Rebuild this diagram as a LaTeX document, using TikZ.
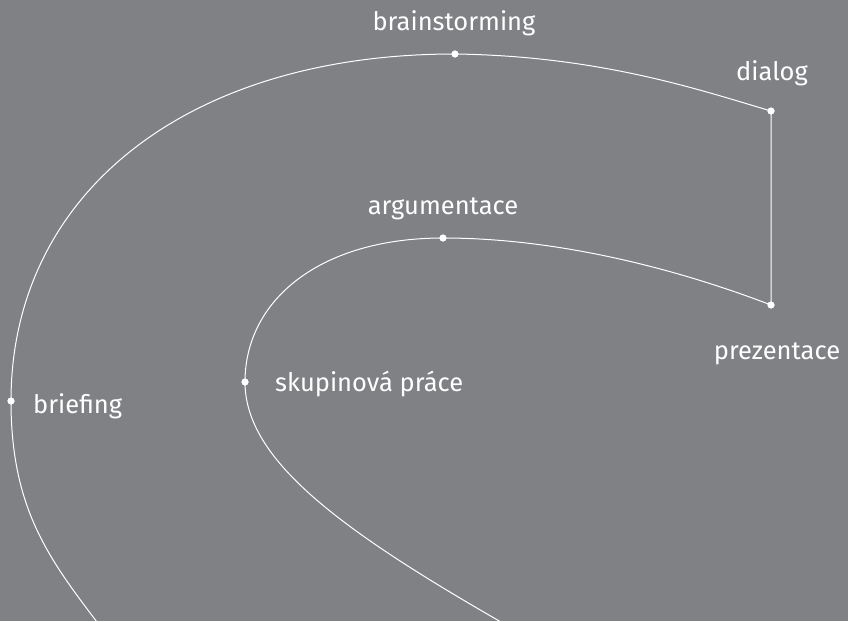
\documentclass[tikz,border=0pt]{standalone}
\usepackage{fontspec}
\setmainfont{Fira Sans}
\usetikzlibrary{positioning}
\definecolor{bggray}{RGB}{128,129,133}
\tikzset{dot/.style={circle,fill=white,draw=none,inner sep=0,minimum size=7pt},
  lbl/.style={text=white,font=\fontsize{25.5}{30}\selectfont,inner sep=0},
  cline/.style={draw=white,line width=1pt}
}

\begin{document}
\begin{tikzpicture}[x=1pt,y=-1pt]
  \fill[bggray] (0,0) rectangle (848,621);
  \useasboundingbox (0,0) rectangle (848,621);
  % points on the curves
  \begin{scope}[every node/.style={dot}]
    \node (brain) at (455,54) {};
    \node (dial) at (771,111) {};
    \node (prez) at (771,305) {};
    \node (argu) at (443,238) {};
    \node (skup) at (245,382) {};
    \node (brief) at (11,401) {};
  \end{scope}
  \coordinate (outEnd) at (100,626);
  \coordinate (inEnd) at (508,626);
  % labels
  \begin{scope}[every node/.style={lbl}]
    \node[anchor=base] (tbrain) at (454,30) {brainstorming};
    \node[anchor=base] (tdial) at (772,80) {dialog};
    \node[anchor=base] (tprez) at (777,359) {prezentace};
    \node[anchor=base] (targu) at (443,214) {argumentace};
    \node[anchor=base west] (tskup) at (275,391) {skupinová práce};
    \node[anchor=base west] (tbrief) at (33,413) {briefing};
  \end{scope}
  % curves
  \draw[cline] (outEnd) .. controls (50,560) and (11,510) .. (brief.center)
    .. controls (11,195) and (185,54) .. (brain.center)
    .. controls (600,56) and (700,90) .. (dial.center)
    -- (prez.center)
    .. controls (680,270) and (560,238) .. (argu.center)
    .. controls (320,238) and (245,300) .. (skup.center)
    .. controls (245,460) and (340,530) .. (inEnd);
  \foreach \p in {brain,dial,prez,argu,skup,brief}
    \node[dot] at (\p) {};
\end{tikzpicture}
\end{document}
